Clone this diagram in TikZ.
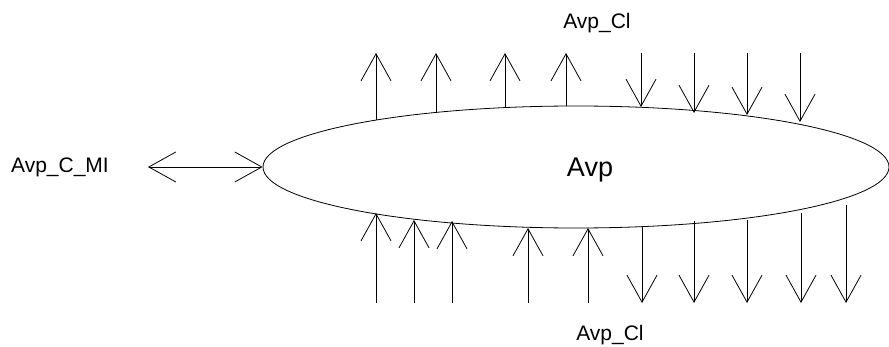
\documentclass[tikz,border=0pt]{standalone}
\usepackage{fontspec}
\setmainfont{Liberation Sans}
\usetikzlibrary{positioning,shapes.geometric,arrows.meta}

\begin{document}
\begin{tikzpicture}[x=1pt,y=-1pt,
    flow/.style={line width=0.8pt, -{Straight Barb[length=27pt,width=30pt,line width=0.8pt]}},
    label/.style={font=\fontsize{21}{25}\selectfont, inner sep=0pt}]
  \useasboundingbox (0,0) rectangle (889,347);
  \node[draw, line width=0.8pt, ellipse, minimum width=626pt, minimum height=122pt, inner sep=0pt] (avp) at (576,167) {};
  \node[font=\fontsize{27}{32}\selectfont, inner sep=0pt] (avptext) at (590,170) {Avp};
  \node[label] (mi) at (60,167) {Avp\_C\_MI};
  \node[label] (cltop) at (597,23) {Avp\_Cl};
  \node[label] (clbot) at (610,335) {Avp\_Cl};
  \coordinate (mitip) at (148,167);
  \draw[line width=0.8pt, {Straight Barb[length=27pt,width=30pt,line width=0.8pt]}-{Straight Barb[length=27pt,width=30pt,line width=0.8pt]}]
    (mitip) -- (avp.west);
  % top side
  \foreach \x/\y [count=\i] in {376/120, 436/113, 505/107, 566/106}{
    \coordinate (ta\i) at (\x,\y);
    \coordinate (tb\i) at (\x,53);
    \draw[flow] (ta\i) -- (tb\i);
  }
  \foreach \x/\y [count=\i] in {641/107, 694/113, 747/115, 800/122}{
    \coordinate (tc\i) at (\x,53);
    \coordinate (td\i) at (\x,\y);
    \draw[flow] (tc\i) -- (td\i);
  }
  % bottom side
  \foreach \x/\y [count=\i] in {376/213, 414/220, 452/221, 528/228, 588/228}{
    \coordinate (ba\i) at (\x,303);
    \coordinate (bb\i) at (\x,\y);
    \draw[flow] (ba\i) -- (bb\i);
  }
  \foreach \x/\y [count=\i] in {642/227, 694/221, 747/220, 801/213, 846/205}{
    \coordinate (bc\i) at (\x,\y);
    \coordinate (bd\i) at (\x,303);
    \draw[flow] (bc\i) -- (bd\i);
  }
\end{tikzpicture}
\end{document}
